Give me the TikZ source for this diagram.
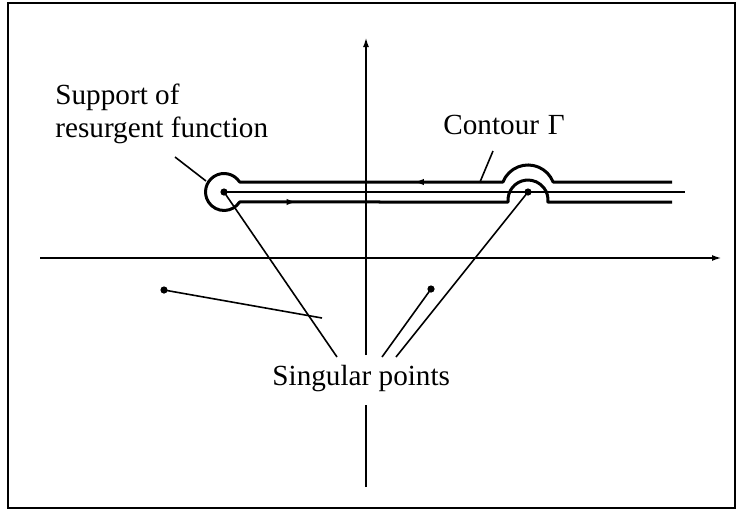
\documentclass[tikz,border=0pt]{standalone}
\usepackage{fontspec}
\setmainfont{Liberation Serif}
\usetikzlibrary{arrows.meta,decorations.markings}
\tikzset{
  frame/.style={draw=black, line width=0.8pt},
  axis/.style={draw=black, line width=1.4pt},
  axistip/.style={axis, -{Latex[length=6pt,width=2.8pt]}},
  contour/.style={draw=black, line width=1.5pt, line join=round,
    postaction={decorate},
    decoration={markings,
      mark=at position 0.272 with {\arrow{Latex[length=5pt,width=3.2pt]}},
      mark=at position 0.598 with {\arrow{Latex[length=5pt,width=3.2pt]}}}},
  support/.style={draw=black, line width=0.8pt},
  leader/.style={draw=black, line width=0.8pt},
  dot/.style={circle, fill=black, inner sep=0pt, minimum size=3.6pt},
  lbl/.style={font=\fontsize{14.6}{16.5}\selectfont, inner sep=0pt, text=black},
}
\begin{document}
\begin{tikzpicture}[x=0.5pt, y=0.5pt]
\useasboundingbox (0,0) rectangle (738,511);
\draw[frame] (8,3) rectangle (735,508);

% axes
\coordinate (xl) at (40,253);
\coordinate (xr) at (724,253);
\coordinate (yb) at (366,24);
\coordinate (ygapb) at (366,106);
\coordinate (ygapt) at (366,156);
\coordinate (yt) at (366,476);
\draw[axistip] (xl) -- (xr);
\draw[axis] (yb) -- (ygapb);
\draw[axistip] (ygapt) -- (yt);

% singular points
\node[dot] (sa) at (224,319) {};
\node[dot] (sb) at (528,319) {};
\node[dot] (sc) at (431,222) {};
\node[dot] (sd) at (164,221) {};

% support of the resurgent function
\coordinate (suppend) at (685,319);
\draw[support] (sa.center) -- (suppend);

% contour Gamma
\draw[contour] (672,329) -- (553.1,329)
  arc[start angle=21.7, end angle=158.3, radius=27] -- (239.6,329)
  arc[start angle=32.7, end angle=327.3, radius=18.5] -- (508.1,309)
  arc[start angle=185.7, end angle=-5.7, radius=20] -- (672,309);

% labels
\node[lbl, align=left, anchor=north west] (supp) at (55,427) {Support of\\resurgent function};
\node[lbl, anchor=base west] (cont) at (443,377) {Contour\hspace{0.3em}Γ};
\node[lbl, anchor=base west] (sing) at (272,126) {Singular points};

% leaders
\coordinate (suppfrom) at (175,354);
\coordinate (suppto) at (206,330);
\coordinate (contfrom) at (493,360);
\coordinate (contto) at (480,329);
\draw[leader] (suppfrom) -- (suppto);
\draw[leader] (contfrom) -- (contto);

\coordinate (enda) at (337,154);
\coordinate (endb) at (396,154);
\coordinate (endc) at (382,154);
\coordinate (endd) at (322,193);
\draw[leader] (sa.center) -- (enda);
\draw[leader] (sb.center) -- (endb);
\draw[leader] (sc.center) -- (endc);
\draw[leader] (sd.center) -- (endd);

\end{tikzpicture}
\end{document}
